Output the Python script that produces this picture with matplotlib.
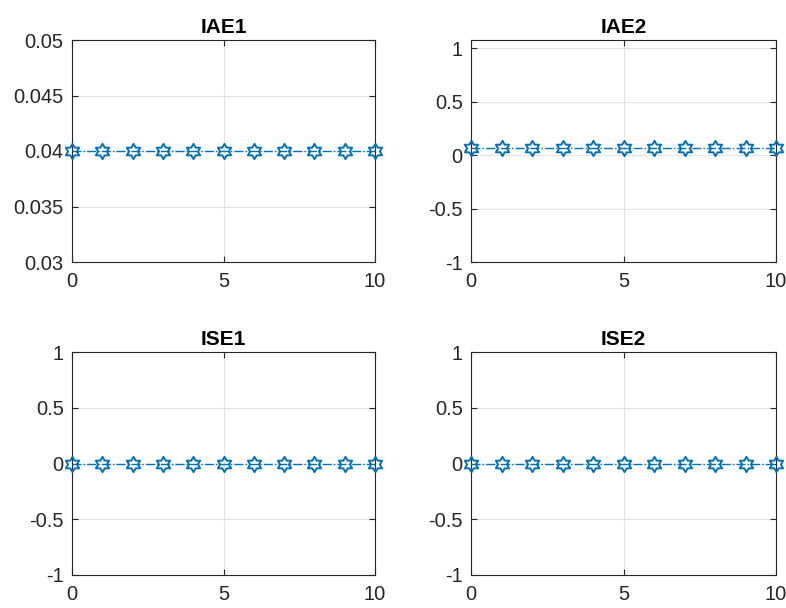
import matplotlib
matplotlib.use("Agg")
import matplotlib.pyplot as plt
import numpy as np
from matplotlib.path import Path

# data
x = [0, 1, 2, 3, 4, 5, 6, 7, 8, 9, 10]
iae1 = [0.04] * 11
iae2 = [0.062] * 11
ise1 = [0.0] * 11
ise2 = [0.0] * 11

titles = ["IAE1", "IAE2", "ISE1", "ISE2"]
series = [iae1, iae2, ise1, ise2]
ylims = [(0.03, 0.05), (-1, 1.075), (-1, 1), (-1, 1)]
yticks = [[0.03, 0.035, 0.04, 0.045, 0.05], [-1, -0.5, 0, 0.5, 1],
          [-1, -0.5, 0, 0.5, 1], [-1, -0.5, 0, 0.5, 1]]
ylabels = [["0.03", "0.035", "0.04", "0.045", "0.05"],
           ["-1", "-0.5", "0", "0.5", "1"],
           ["-1", "-0.5", "0", "0.5", "1"],
           ["-1", "-0.5", "0", "0.5", "1"]]

# hexagram marker (matlab style)
verts = []
for k in range(6):
    a = np.deg2rad(90 + 60 * k)
    verts.append((np.cos(a), np.sin(a)))
    b = np.deg2rad(120 + 60 * k)
    r = 1 / np.sqrt(3)
    verts.append((r * np.cos(b), r * np.sin(b)))
verts.append(verts[0])
hexagram = Path(verts, [Path.MOVETO] + [Path.LINETO] * 11 + [Path.CLOSEPOLY])

plt.rcParams['font.family'] = ['Liberation Sans', 'DejaVu Sans']

fig = plt.figure(figsize=(7.86, 6.08), dpi=100)
W, H = 786.0, 608.0
boxes = [(72, 40, 375, 262), (471, 40, 776, 262),
         (72, 352, 375, 575), (471, 352, 776, 575)]

for i in range(4):
    l, t, r, b = boxes[i]
    ax = fig.add_axes([l / W, 1 - b / H, (r - l) / W, (b - t) / H])
    ax.plot(x, series[i], linestyle='-.', color='#0072BD', lw=1,
            marker=hexagram, markersize=11, markerfacecolor='none',
            markeredgecolor='#0072BD', markeredgewidth=1.4, clip_on=False, zorder=3)
    ax.set_xlim(0, 10)
    ax.set_ylim(*ylims[i])
    ax.set_xticks([0, 5, 10])
    ax.set_xticklabels(["0", "5", "10"])
    ax.set_yticks(yticks[i])
    ax.set_yticklabels(ylabels[i])
    ax.grid(True, color='#e3e3e3', lw=0.8)
    ax.set_axisbelow(True)
    ax.tick_params(direction='in', top=True, right=True, labelsize=14.5,
                   colors='#262626', length=4, width=0.8)
    ax.tick_params(axis='x', pad=7)
    ax.tick_params(axis='y', pad=6)
    for s in ax.spines.values():
        s.set_color('#262626')
        s.set_linewidth(0.8)
    ax.set_title(titles[i], fontsize=15, fontweight='bold', pad=5)

plt.savefig("out.png", dpi=100)
plt.close()
